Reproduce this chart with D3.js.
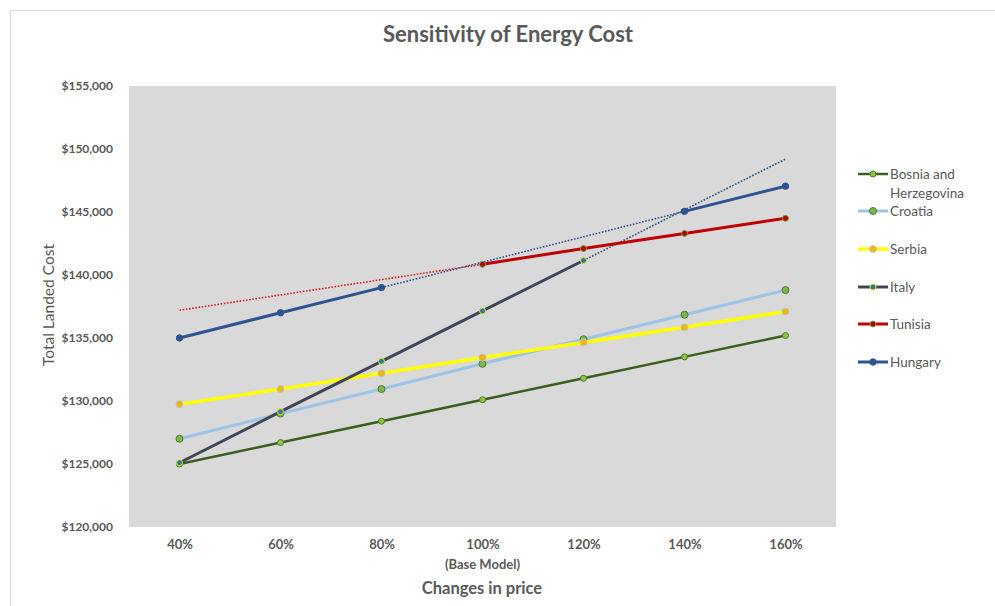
<!DOCTYPE html>
<html>
<head>
<meta charset="utf-8">
<script src="https://cdn.jsdelivr.net/npm/d3@7"></script>
<style>
  html, body { margin: 0; padding: 0; background: #fff; }
  svg text { font-family: Lato, "Open Sans", sans-serif; }
</style>
</head>
<body>
<svg id="chart" width="995" height="606"></svg>
<script>
// Price-change scenarios (x axis)
const categories = ["40%", "60%", "80%", "100%", "120%", "140%", "160%"];
const yTicks = [120000, 125000, 130000, 135000, 140000, 145000, 150000, 155000];

// Total landed cost per country; null = no value for that scenario
const bosnia  = [125000, 126700, 128400, 130100, 131800, 133500, 135200];
const croatia = [127000, 129000, 130950, 132950, 134900, 136850, 138800];
const serbia  = [129750, 130950, 132200, 133450, 134650, 135850, 137100];
const italy   = [125100, 129150, 133150, 137150, 141150, null, null];
const tunisia = [null, null, null, 140850, 142100, 143300, 144500];
const hungary = [135000, 137000, 139000, null, null, 145050, 147050];

// Dotted projection lines
const italyDotted   = [null, null, null, null, 141150, null, 149200];
const tunisiaDotted = [137200, null, null, 140850, null, null, null];
const hungaryDotted = [null, null, 139000, null, null, 145050, null];

const series = [
  { name: "Bosnia and|Herzegovina", values: bosnia, line: "#3b5e1f", width: 2.5,
    fill: "#8cc63f", stroke: "#4f7a2a", r: 3 },
  { name: "Croatia", values: croatia, line: "#9dc3e6", width: 3,
    fill: "#7ab648", stroke: "#4f7a2a", r: 3.5 },
  { name: "Serbia", values: serbia, line: "#ffff00", width: 3.5,
    fill: "#f5b400", stroke: "#b4c7e7", r: 3.5 },
  { name: "Italy", values: italy, line: "#404656", width: 3,
    fill: "#2e75b6", stroke: "#e5e500", r: 3, dotted: italyDotted, dotColor: "#2f4b7c" },
  { name: "Tunisia", values: tunisia, line: "#c00000", width: 3,
    fill: "#b00000", stroke: "#70ad47", r: 3, dotted: tunisiaDotted, dotColor: "#e02020" },
  { name: "Hungary", values: hungary, line: "#2f5290", width: 3,
    fill: "#2f5290", stroke: "#2f5290", r: 3.2, dotted: hungaryDotted, dotColor: "#2f5290" }
];

const svg = d3.select("#chart");
const textColor = "#595959";

// Chart frame
svg.append("rect").attr("x", 10.5).attr("y", 10.5).attr("width", 1000).attr("height", 620)
  .attr("fill", "#fff").attr("stroke", "#d9d9d9");

const plot = { left: 129, right: 836, top: 86, bottom: 527 };

const x = d3.scalePoint().domain(categories)
  .range([plot.left, plot.right]).padding(0.5);
const y = d3.scaleLinear().domain([120000, 155000]).range([plot.bottom, plot.top]);

svg.append("rect")
  .attr("x", plot.left).attr("y", plot.top)
  .attr("width", plot.right - plot.left).attr("height", plot.bottom - plot.top)
  .attr("fill", "#d9d9d9");

// Y axis
const yAxis = d3.axisLeft(y).tickValues(yTicks)
  .tickFormat(d => "$" + d3.format(",")(d)).tickSize(0).tickPadding(16);
const gy = svg.append("g").attr("transform", `translate(${plot.left},0)`).call(yAxis);
gy.select(".domain").remove();
gy.selectAll("text").attr("fill", textColor).attr("font-size", 12).attr("font-weight", 700);

// X axis
const xAxis = d3.axisBottom(x).tickSize(0).tickPadding(13);
const gx = svg.append("g").attr("transform", `translate(0,${plot.bottom})`).call(xAxis);
gx.select(".domain").remove();
gx.selectAll("text").attr("fill", textColor).attr("font-size", 13).attr("font-weight", 700);
svg.append("text").attr("x", x("100%")).attr("y", 569).attr("text-anchor", "middle")
  .attr("fill", textColor).attr("font-size", 13).attr("font-weight", 700).text("(Base Model)");

// Titles
svg.append("text").attr("x", 508).attr("y", 42).attr("text-anchor", "middle")
  .attr("fill", textColor).attr("font-size", 22).attr("font-weight", 700)
  .text("Sensitivity of Energy Cost");
svg.append("text").attr("x", 482).attr("y", 594).attr("text-anchor", "middle")
  .attr("fill", textColor).attr("font-size", 16.5).attr("font-weight", 700)
  .text("Changes in price");
svg.append("text").attr("transform", "translate(54,305) rotate(-90)")
  .attr("text-anchor", "middle").attr("fill", textColor).attr("font-size", 15.5)
  .text("Total Landed Cost");

const lineGen = d3.line()
  .defined(d => d.v != null)
  .x(d => x(d.c)).y(d => y(d.v));
const pts = arr => arr.map((v, i) => ({ c: categories[i], v }));
const dottedGen = d3.line().x(d => x(d.c)).y(d => y(d.v));

// Dotted projections (drawn under the series)
series.filter(s => s.dotted).forEach(s => {
  const p = pts(s.dotted).filter(d => d.v != null);
  svg.append("path").attr("d", dottedGen(p)).attr("fill", "none")
    .attr("stroke", s.dotColor).attr("stroke-width", 1.6)
    .attr("stroke-dasharray", "1.6,1.6");
});

// Series lines
series.forEach(s => {
  svg.append("path").attr("d", lineGen(pts(s.values))).attr("fill", "none")
    .attr("stroke", s.line).attr("stroke-width", s.width)
    .attr("stroke-linejoin", "round").attr("stroke-linecap", "round");
});

// Markers
series.forEach(s => {
  svg.append("g").selectAll("circle")
    .data(pts(s.values).filter(d => d.v != null))
    .join("circle")
    .attr("cx", d => x(d.c)).attr("cy", d => y(d.v)).attr("r", s.r)
    .attr("fill", s.fill).attr("stroke", s.stroke).attr("stroke-width", 1);
});

// Legend
const legendRows = [174, 211, 249, 287, 324, 362];
const lg = svg.append("g");
series.forEach((s, i) => {
  const yy = legendRows[i];
  lg.append("line").attr("x1", 858).attr("x2", 888).attr("y1", yy).attr("y2", yy)
    .attr("stroke", s.line).attr("stroke-width", s.width);
  lg.append("circle").attr("cx", 873).attr("cy", yy).attr("r", s.r)
    .attr("fill", s.fill).attr("stroke", s.stroke).attr("stroke-width", 1);
  const parts = s.name.split("|");
  parts.forEach((t, j) => {
    lg.append("text").attr("x", 890).attr("y", yy + 4.5 + j * 19)
      .attr("fill", textColor).attr("font-size", 13.5).text(t);
  });
});
</script>
</body>
</html>
